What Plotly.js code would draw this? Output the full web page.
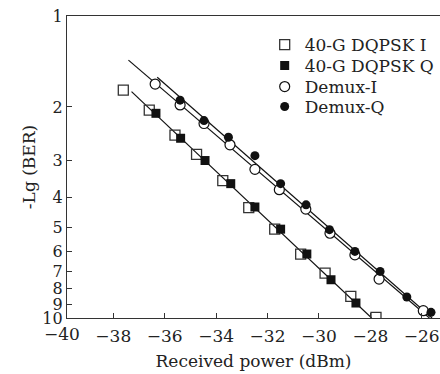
<!DOCTYPE html>
<html><head><meta charset="utf-8">
<script src="https://cdn.plot.ly/plotly-3.0.1.min.js"></script>
<style>body{margin:0;background:#fff}</style></head>
<body><div id="c" style="width:440px;height:374px"></div>
<script>
// 40-G DQPSK I (open squares)
const iX = [-37.61, -36.6, -35.6, -34.76, -33.74, -32.73, -31.72, -30.71, -29.76, -28.76, -27.78];
const iY = [1.76, 2.05, 2.48, 2.87, 3.51, 4.31, 5.08, 6.14, 7.10, 8.48, 9.95];
// 40-G DQPSK Q (filled squares)
const qX = [-36.34, -35.38, -34.43, -33.43, -32.49, -31.49, -30.47, -29.53, -28.56];
const qY = [2.10, 2.54, 3.01, 3.59, 4.29, 5.08, 6.14, 7.47, 8.92];
// Demux-I (open circles)
const dIX = [-36.37, -35.40, -34.47, -33.46, -32.49, -31.54, -30.51, -29.57, -28.6, -27.66, -25.94];
const dIY = [1.68, 1.97, 2.27, 2.67, 3.22, 3.76, 4.36, 5.24, 6.18, 7.43, 9.46];
// Demux-Q (filled circles)
const dQX = [-35.40, -34.47, -33.52, -32.49, -31.49, -30.50, -29.59, -28.6, -27.62, -26.58, -25.64];
const dQY = [1.90, 2.22, 2.52, 2.90, 3.59, 4.22, 5.10, 6.02, 7.01, 8.52, 9.58];
// fitted lines (end points)
const fitIQX = [-37.29, -27.95], fitIQY = [1.78, 10];
const fitDIX = [-37.41, -25.70], fitDIY = [1.40, 10];
const fitDQX = [-36.29, -25.60], fitDQY = [1.595, 10];
// ticks
const xTicks = [-38, -36, -34, -32, -30, -28, -26];
const yTicks = [1, 2, 3, 4, 5, 6, 7, 8, 9, 10];
const names = ['40-G DQPSK I', '40-G DQPSK Q', 'Demux-I', 'Demux-Q'];

const F = 'DejaVu Serif, serif';
const lineT = (x, y) => ({x, y, mode: 'lines', showlegend: false, hoverinfo: 'skip',
  line: {color: '#111', width: 1.2}});
const data = [
  lineT(fitIQX, fitIQY), lineT(fitDIX, fitDIY), lineT(fitDQX, fitDQY),
  {x: iX, y: iY, mode: 'markers', name: names[0], legend: 'legend',
   marker: {symbol: 'square-open', size: 10, color: '#333', line: {width: 1.3}}},
  {x: qX, y: qY, mode: 'markers', name: names[1], legend: 'legend2',
   marker: {symbol: 'square', size: 9, color: '#111'}},
  {x: dIX, y: dIY, mode: 'markers', name: names[2], legend: 'legend3',
   marker: {symbol: 'circle', size: 10, color: '#fff', line: {color: '#111', width: 1.2}}},
  {x: dQX, y: dQY, mode: 'markers', name: names[3], legend: 'legend4',
   marker: {symbol: 'circle', size: 9, color: '#111'}}
];
const legendAt = (py) => ({x: 0.53, xanchor: 'left', y: (318 - py) / 302, yanchor: 'middle',
  bgcolor: 'rgba(0,0,0,0)', itemwidth: 30,
  font: {family: F, size: 17, color: '#222'}});
const layout = {
  width: 440, height: 374,
  margin: {l: 67, r: 0, t: 16, b: 56},
  paper_bgcolor: '#fff', plot_bgcolor: '#fff',
  font: {family: F, size: 17, color: '#222'},
  showlegend: true,
  legend: legendAt(45), legend2: legendAt(66), legend3: legendAt(87), legend4: legendAt(107),
  xaxis: {range: [-39.80, -25.29], tickvals: xTicks, ticks: 'inside', ticklen: 5,
    ticklabelstandoff: 2,
    tickcolor: '#333', showline: true, linecolor: '#333', linewidth: 1.2, mirror: true,
    showgrid: false, zeroline: false,
    title: {text: 'Received power (dBm)', font: {family: F, size: 17}, standoff: 10}},
  yaxis: {type: 'log', range: [1, 0], tickvals: yTicks, ticktext: yTicks.map(String),
    tickfont: {family: F, size: 16},
    ticks: 'inside', ticklen: 5, tickcolor: '#333', showline: true, linecolor: '#333',
    linewidth: 1.2, showgrid: false, zeroline: false,
    title: {text: '-Lg (BER)', font: {family: F, size: 17}, standoff: 2}},
  annotations: [{xref: 'paper', yref: 'paper', x: (-40 + 39.80) / 14.51, y: 0,
    yanchor: 'top', xanchor: 'center', yshift: -4, showarrow: false, text: '\u221240',
    font: {family: F, size: 17, color: '#222'}}]
};
Plotly.newPlot('c', data, layout, {displayModeBar: false, staticPlot: true});
</script></body></html>
